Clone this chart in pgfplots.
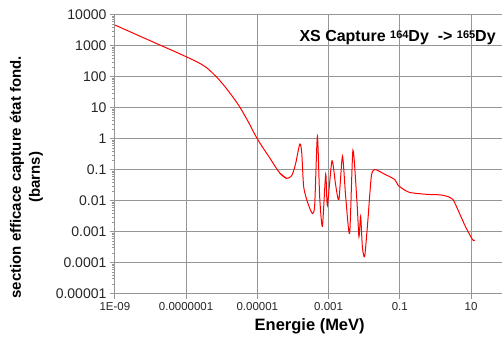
\documentclass[border=0pt]{standalone}
\usepackage{fontspec}
\setmainfont{Liberation Sans}
\usepackage{pgfplots}
\pgfplotsset{compat=1.18}
\definecolor{gridgray}{RGB}{150,150,150}
\begin{document}
\begin{tikzpicture}[x=1pt,y=1pt]
\begin{axis}[
  at={(0,0)}, anchor=south west,
  scale only axis, width=387pt, height=279pt,
  xmode=log, ymode=log,
  xmin=1e-9, xmax=71.6, ymin=1e-5, ymax=1e4,
  axis x line*=bottom, axis y line*=left,
  axis line style={gridgray, line width=1pt},
  xtick={1e-9,1e-7,1e-5,1e-3,1e-1,10},
  xticklabels={1E-09,0.0000001,0.00001,0.001,0.1,10},
  ytick={1e-5,1e-4,1e-3,1e-2,1e-1,1,10,100,1000,10000},
  yticklabels={0.00001,0.0001,0.001,0.01,0.1,1,10,100,1000,10000},
  minor xtick={}, minor ytick={},
  tick align=outside, major tick length=5pt,
  tick style={gridgray, line width=1pt},
  grid=major,
  major grid style={gridgray, line width=1pt},
  yticklabel style={font=\fontsize{14}{14}\selectfont, text=black!85},
  xticklabel style={font=\fontsize{11.5}{11.5}\selectfont, text=black!85},
  /pgf/number format/assume math mode=true,
  clip=true,
]
\addplot[red, line width=1pt, smooth, tension=0.6] coordinates {
(1e-9,4750)
(1e-8,1460)
(1e-7,450)
(3.16e-7,229)
(6.3e-7,115)
(1e-6,65)
(1.78e-6,28)
(3.16e-6,11)
(5.6e-6,3.5)
(1e-5,1)
(2.24e-5,0.24)
(4.27e-5,0.0786)
(6.6e-5,0.053)
};
\addplot[red, line width=1pt, smooth, tension=0.4] coordinates {
(4.27e-5,0.0786)
(6.6e-5,0.053)
(8.7e-5,0.0605)
(1.0e-4,0.08)
(1.2e-4,0.166)
(1.55e-4,0.68)
(1.76e-4,0.37)
(2.0e-4,0.028)
(2.63e-4,0.0083)
(3.5e-4,0.0039)
(4.07e-4,0.0072)
(4.85e-4,1.23)
(5.62e-4,0.0135)
(6.7e-4,0.0015)
(8.3e-4,0.073)
(9.25e-4,0.0072)
(1.245e-3,0.196)
(1.58e-3,0.032)
(1.95e-3,0.011)
(2.45e-3,0.278)
(3.0e-3,0.015)
(3.9e-3,0.00089)
(4.83e-3,0.43)
(6.3e-3,0.0083)
(7.13e-3,0.00069)
(7.94e-3,0.0032)
(8.9e-3,0.00032)
(1.03e-2,0.00016)
(1.27e-2,0.0024)
(1.58e-2,0.06)
(1.96e-2,0.103)
(3.7e-2,0.073)
(7.15e-2,0.049)
(8.85e-2,0.032)
(0.12,0.0246)
(0.188,0.0186)
(0.555,0.0162)
(1.31,0.0156)
(2.01,0.0142)
(3.09,0.0111)
(4.75,0.0039)
(7.0,0.00145)
(11.2,0.00054)
(12.6,0.00054)
};
\end{axis}
\node[font=\bfseries\fontsize{16}{16}\selectfont, anchor=center] at (283,256)
  {XS Capture {\fontsize{11}{11}\selectfont\raisebox{0.55ex}{164}}Dy\ \ -> {\fontsize{11}{11}\selectfont\raisebox{0.55ex}{165}}Dy};
\node[font=\bfseries\fontsize{16.5}{16.5}\selectfont, anchor=center] at (195,-33) {Energie (MeV)};
\node[font=\bfseries\fontsize{15}{19}\selectfont, rotate=90, align=center, anchor=center] at (-88.5,116.5)
  {section efficace capture état fond.\\(barns)};
\useasboundingbox (-115,-44) rectangle (387,294);
\end{tikzpicture}
\end{document}
